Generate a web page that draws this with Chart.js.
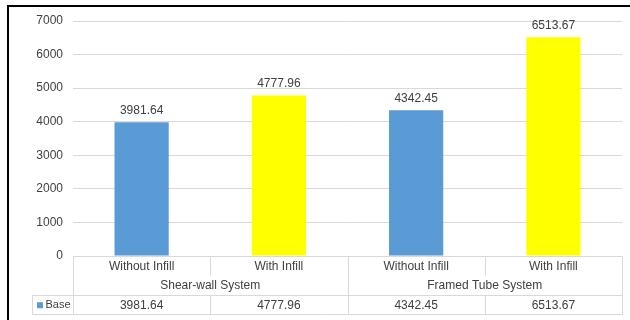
<!DOCTYPE html>
<html>
<head>
<meta charset="utf-8">
<script src="https://cdn.jsdelivr.net/npm/chart.js@4.4.1/dist/chart.umd.min.js"></script>
<style>
	html, body { margin: 0; padding: 0; background: #fff; overflow: hidden; }
	#wrap { position: relative; width: 630px; height: 320px; }
	#frame {
		position: absolute; left: 7px; top: 5px; width: 640px; height: 340px;
		border-left: 2px solid #000; border-top: 2px solid #000;
		pointer-events: none;
	}
	canvas { position: absolute; left: 0; top: 0; }
</style>
</head>
<body>
<div id="wrap">
	<canvas id="baseChart" width="630" height="320"></canvas>
	<div id="frame"></div>
</div>
<script>
// Datos del gráfico
const categories = ['Without Infill', 'With Infill', 'Without Infill', 'With Infill'];
const groups = ['Shear-wall System', 'Framed Tube System'];
const seriesName = 'Base';
const baseValues = [3981.64, 4777.96, 4342.45, 6513.67];
const barColors = ['#5B9BD5', '#FFFF00', '#5B9BD5', '#FFFF00'];
const yTicks = [0, 1000, 2000, 3000, 4000, 5000, 6000, 7000];

const FONT = "'Liberation Sans', Arial, sans-serif";
const TEXT = '#404040';
const LINE = '#D9D9D9';

// Etiquetas con el valor encima de cada barra
const valueLabels = {
	id: 'valueLabels',
	afterDatasetsDraw(chart) {
		const ctx = chart.ctx;
		const meta = chart.getDatasetMeta(0);
		ctx.save();
		ctx.font = '12px ' + FONT;
		ctx.fillStyle = TEXT;
		ctx.textAlign = 'center';
		ctx.textBaseline = 'middle';
		meta.data.forEach((bar, i) => {
			ctx.fillText(baseValues[i].toFixed(2), bar.x, bar.y - 12);
		});
		ctx.restore();
	},
};

// Tabla de datos debajo del eje X (categorías, grupos y valores)
const dataTable = {
	id: 'dataTable',
	afterDraw(chart) {
		const ctx = chart.ctx;
		const area = chart.chartArea;
		const xs = chart.scales.x;
		const left = area.left;
		const right = area.right;
		const w = (right - left) / categories.length;
		const top = area.bottom;
		const r1 = top + 19;
		const r2 = top + 38.5;
		const bottom = top + 58;
		const legendLeft = 32;

		ctx.save();
		ctx.strokeStyle = LINE;
		ctx.lineWidth = 1;
		const line = (x1, y1, x2, y2) => {
			ctx.beginPath();
			ctx.moveTo(Math.round(x1) + 0.5, Math.round(y1) + 0.5);
			ctx.lineTo(Math.round(x2) + 0.5, Math.round(y2) + 0.5);
			ctx.stroke();
		};
		// horizontales
		line(left, top, right, top);
		line(legendLeft, r2, right, r2);
		line(legendLeft, bottom, right, bottom);
		// verticales
		line(legendLeft, r2, legendLeft, bottom);
		line(left, top, left, bottom);
		line(right, top, right, bottom);
		for (let i = 1; i < categories.length; i++) {
			const x = left + i * w;
			if (i % 2 === 0) {
				line(x, top, x, bottom);
			} else {
				line(x, top, x, r1);
				line(x, r2, x, bottom);
			}
		}

		ctx.font = '12px ' + FONT;
		ctx.fillStyle = TEXT;
		ctx.textAlign = 'center';
		ctx.textBaseline = 'middle';
		categories.forEach((c, i) => {
			const cx = xs.getPixelForValue(i);
			ctx.fillText(c, cx, (top + r1) / 2 + 1);
			ctx.fillText(baseValues[i].toFixed(2), cx, (r2 + bottom) / 2 + 1);
		});
		groups.forEach((g, i) => {
			ctx.fillText(g, left + (i * 2 + 1) * w, (r1 + r2) / 2 + 1);
		});

		// leyenda de la serie
		const ly = (r2 + bottom) / 2 + 1;
		ctx.fillStyle = barColors[0];
		ctx.fillRect(37, ly - 3, 6, 6);
		ctx.fillStyle = TEXT;
		ctx.font = '11px ' + FONT;
		ctx.textAlign = 'left';
		ctx.fillText(seriesName, 45.5, ly);
		ctx.restore();
	},
};

const ctx = document.getElementById('baseChart').getContext('2d');
new Chart(ctx, {
	type: 'bar',
	data: {
		labels: categories,
		datasets: [
			{
				label: seriesName,
				data: baseValues,
				backgroundColor: barColors,
				borderWidth: 0,
				categoryPercentage: 1,
				barPercentage: 0.395,
			},
		],
	},
	options: {
		responsive: false,
		animation: false,
		layout: { padding: { top: 21, right: 8, bottom: 0, left: 0 } },
		plugins: {
			legend: { display: false },
			tooltip: { enabled: false },
		},
		scales: {
			x: {
				grid: { display: false },
				border: { display: false },
				ticks: { display: false },
				afterFit: (s) => { s.height = 64; },
			},
			y: {
				min: 0,
				max: 7000,
				afterBuildTicks: (s) => { s.ticks = yTicks.map((v) => ({ value: v })); },
				afterFit: (s) => { s.width = 73; },
				grid: { color: LINE, drawTicks: false },
				border: { display: false },
				ticks: {
					color: TEXT,
					padding: 10,
					font: { size: 12, family: FONT },
					callback: (v) => String(v),
				},
			},
		},
	},
	plugins: [valueLabels, dataTable],
});
</script>
</body>
</html>
